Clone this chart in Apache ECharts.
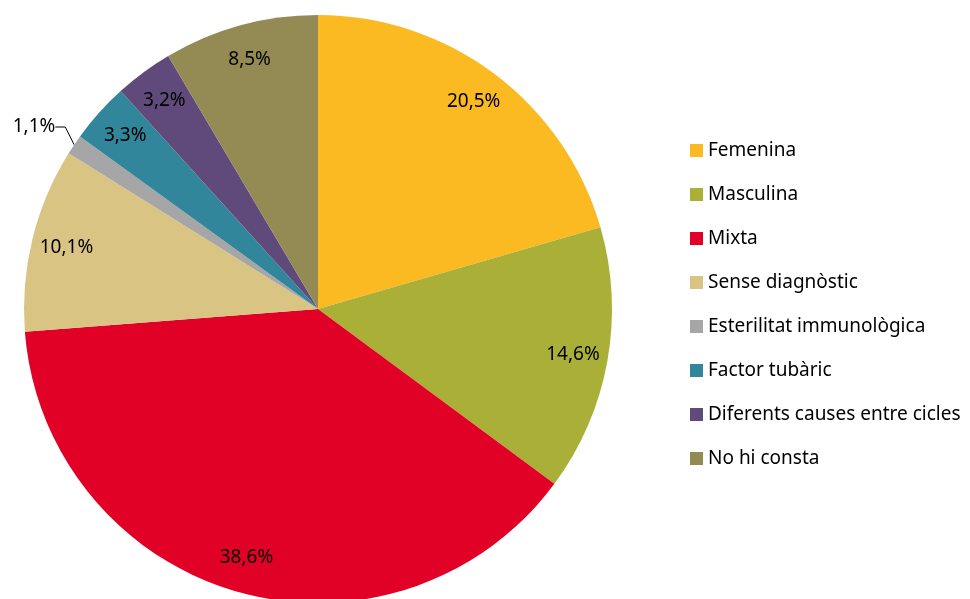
<!DOCTYPE html>
<html>
<head>
<meta charset="utf-8">
<script src="https://cdn.jsdelivr.net/npm/echarts@6/dist/echarts.min.js"></script>
<style>
  html, body { margin: 0; padding: 0; background: #fff; }
  #chart { width: 970px; height: 599px; }
</style>
</head>
<body>
<div id="chart"></div>
<script>
// causes d'esterilitat (%)
var categories = ['Femenina', 'Masculina', 'Mixta', 'Sense diagnòstic', 'Esterilitat immunològica', 'Factor tubàric', 'Diferents causes entre cicles', 'No hi consta'];
var values = [20.5, 14.6, 38.6, 10.1, 1.1, 3.3, 3.2, 8.5];
var colors = ['#FBBA22', '#AAAF38', '#E10026', '#D9C484', '#A6A6A6', '#31869B', '#604A7B', '#948A54'];

var fontFam = '"Noto Sans", sans-serif';
function pct(p) { return p.value.toFixed(1).replace('.', ',') + '%'; }

var center = [318, 309];
var R = 294;

// base pie, only the small slice gets an outside label
var baseData = categories.map(function (c, i) {
    var d = { name: c, value: values[i], itemStyle: { color: colors[i] } };
    if (c === 'Esterilitat immunològica') {
        d.label = { show: true, position: 'outside', distanceToLabelLine: 3 };
        d.labelLine = { show: true, length: 12, length2: 10, lineStyle: { color: '#000', width: 1 } };
    }
    return d;
});

// transparent ring to place the inside labels further out
var labelData = categories.map(function (c, i) {
    var d = { name: c, value: values[i] };
    if (c === 'Esterilitat immunològica') d.label = { show: false };
    return d;
});

var myChart = echarts.init(document.getElementById('chart'));
var option = {
    animation: false,
    color: colors,
    legend: {
        orient: 'vertical',
        left: 685,
        top: 136,
        icon: 'rect',
        itemWidth: 13,
        itemHeight: 13,
        itemGap: 25,
        data: categories,
        textStyle: { fontFamily: fontFam, fontSize: 19, color: '#000' }
    },
    series: [
        {
            type: 'pie',
            center: center,
            radius: [0, R],
            startAngle: 90,
            avoidLabelOverlap: false,
            label: { show: false, formatter: pct, fontFamily: fontFam, fontSize: 19, color: '#000' },
            labelLine: { show: false },
            labelLayout: function (p) {
                if (p.dataIndex !== 4) return {};
                return { x: 34, y: 127, align: 'center', verticalAlign: 'middle' };
            },
            emphasis: { disabled: true },
            data: baseData
        },
        {
            type: 'pie',
            center: center,
            radius: [218, R],
            startAngle: 90,
            silent: true,
            avoidLabelOverlap: false,
            itemStyle: { color: 'rgba(0,0,0,0)' },
            label: { show: true, position: 'inside', formatter: pct, fontFamily: fontFam, fontSize: 19, color: '#000' },
            labelLine: { show: false },
            emphasis: { disabled: true },
            data: labelData
        }
    ]
};
myChart.setOption(option);
window.addEventListener('resize', function () {
    myChart.resize();
});
</script>
</body>
</html>
